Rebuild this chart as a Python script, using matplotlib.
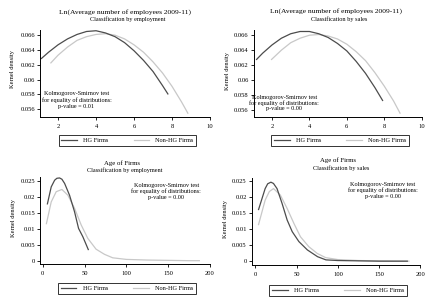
import matplotlib
matplotlib.use("Agg")
import matplotlib.pyplot as plt
from matplotlib.lines import Line2D
from matplotlib.ticker import FixedLocator, FixedFormatter

plt.rcParams['font.family'] = ['Liberation Serif', 'DejaVu Serif']

W, H = 433, 305

# ---------------- data ----------------
tl_hg_x = [1.1, 1.5, 2.0, 2.5, 3.0, 3.5, 4.0, 4.5, 5.0, 5.5, 6.0, 6.5, 7.0, 7.5, 7.8]
tl_hg_y = [0.0628, 0.0637, 0.0647, 0.0655, 0.0661, 0.0665, 0.0666, 0.0663, 0.0658,
           0.0650, 0.0639, 0.0626, 0.0611, 0.0592, 0.0580]
tl_nhg_x = [1.6, 2.0, 2.5, 3.0, 3.5, 4.0, 4.5, 5.0, 5.5, 6.0, 6.5, 7.0, 7.5, 8.0, 8.5, 8.85]
tl_nhg_y = [0.0622, 0.0633, 0.0644, 0.0653, 0.0658, 0.0661, 0.0662, 0.0660, 0.0655,
            0.0647, 0.0637, 0.0624, 0.0609, 0.0591, 0.0570, 0.0554]

tr_hg_x = [1.15, 1.5, 2.0, 2.5, 3.0, 3.5, 4.0, 4.5, 5.0, 5.5, 6.0, 6.5, 7.0, 7.5, 7.93]
tr_hg_y = [0.0627, 0.0636, 0.0647, 0.0656, 0.0662, 0.0665, 0.0665, 0.0662, 0.0657,
           0.0649, 0.0639, 0.0625, 0.0609, 0.0590, 0.0572]
tr_nhg_x = [1.95, 2.5, 3.0, 3.5, 4.0, 4.5, 5.0, 5.5, 6.0, 6.5, 7.0, 7.5, 8.0, 8.5, 8.86]
tr_nhg_y = [0.0627, 0.0640, 0.0650, 0.0656, 0.0660, 0.0661, 0.0659, 0.0655, 0.0648,
            0.0638, 0.0626, 0.0610, 0.0592, 0.0572, 0.0555]

bl_hg_x = [5.5, 10.2, 14.3, 17.0, 20.2, 23.0, 26.2, 32.1, 38.1, 42.9, 48.0, 54.8]
bl_hg_y = [0.0177, 0.0232, 0.0253, 0.0259, 0.0260, 0.0256, 0.0243, 0.0206, 0.0154,
           0.0102, 0.0076, 0.0034]
bl_nhg_x = [4.3, 10.2, 16.2, 23.0, 30.1, 38.1, 46.0, 53.9, 63.8, 73.8, 83.7, 100, 125, 150, 175, 188]
bl_nhg_y = [0.0115, 0.0185, 0.0217, 0.0224, 0.0206, 0.0165, 0.0113, 0.0071, 0.0037,
            0.0021, 0.0010, 0.0005, 0.0003, 0.0002, 0.0001, 0.0001]

br_hg_x = [3.7, 11.9, 15.0, 18.9, 22.0, 26.3, 32.4, 38.6, 44.7, 52.8, 63.1, 75.4, 85.6, 100, 125, 150, 185]
br_hg_y = [0.0160, 0.0227, 0.0242, 0.0247, 0.0243, 0.0227, 0.0181, 0.0129, 0.0093,
           0.0062, 0.0036, 0.0015, 0.0005, 0.0003, 0.0002, 0.0001, 0.0001]
br_nhg_x = [3.7, 11.9, 17.0, 22.1, 30.3, 38.6, 46.7, 54.7, 64.9, 75.1, 85.3, 100, 125, 150, 187]
br_nhg_y = [0.0113, 0.0191, 0.0218, 0.0227, 0.0207, 0.0165, 0.0119, 0.0077, 0.0046,
            0.0025, 0.0012, 0.0006, 0.0003, 0.0002, 0.0001]

top_xticks = [2, 4, 6, 8, 10]
top_yticks = [0.056, 0.058, 0.060, 0.062, 0.064, 0.066]
top_ytick_labels = ['0.056', '0.058', '0.06', '0.062', '0.064', '0.066']
bot_xticks = [0, 50, 100, 150, 200]
bot_yticks = [0, 0.005, 0.010, 0.015, 0.020, 0.025]
bot_ytick_labels = ['0', '0.005', '0.01', '0.015', '0.02', '0.025']

title_top = 'Ln(Average number of employees 2009-11)'
title_bot = 'Age of Firms'
sub_emp = 'Classification by employment'
sub_sales = 'Classification by sales'
ks_text = 'Kolmogorov-Smirnov test\nfor equality of distributions:\np-value = {}'
pvals = ['0.01', '0.00', '0.00', '0.00']
series_names = ['HG Firms', 'Non-HG Firms']

DARK = '#4c4c4c'
LIGHT = '#c8c8c8'

fig = plt.figure(figsize=(W / 100, H / 100), dpi=100)
fig.patch.set_facecolor('white')


def axpos(l, r, t, b):
    return [l / W, 1 - b / H, (r - l) / W, (b - t) / H]


def fx(px):
    return px / W


def fy(py):
    return 1 - py / H


panels = [
    dict(pos=axpos(40, 210, 30, 116.7), xlim=(1.05, 10.0), ylim=(0.0550, 0.0667),
         hg=(tl_hg_x, tl_hg_y), nhg=(tl_nhg_x, tl_nhg_y), xt=top_xticks,
         yt=top_yticks, ytl=top_ytick_labels, title=title_top, sub=sub_emp,
         tx=125, ty=11.7, sy=19.3, ylx=12.7, yly=69, ks=(2.97, 0.05725, 1.2),
         leg=(127.5, 140), p=pvals[0], tsize=5.4),
    dict(pos=axpos(253.7, 422, 30, 116.7), xlim=(1.02, 10.02), ylim=(0.0551, 0.0667),
         hg=(tr_hg_x, tr_hg_y), nhg=(tr_nhg_x, tr_nhg_y), xt=top_xticks,
         yt=top_yticks, ytl=top_ytick_labels, title=title_top, sub=sub_sales,
         tx=336, ty=10.7, sy=19.0, ylx=227.7, yly=70.8, ks=(2.66, 0.05697, 1.0),
         leg=(340.3, 140.8), p=pvals[1], tsize=5.4),
    dict(pos=axpos(40, 210, 177, 264), xlim=(-3.2, 200), ylim=(-0.00094, 0.0263),
         hg=(bl_hg_x, bl_hg_y), nhg=(bl_nhg_x, bl_nhg_y), xt=bot_xticks,
         yt=bot_yticks, ytl=bot_ytick_labels, title=title_bot, sub=sub_emp,
         tx=122, ty=162.7, sy=170.3, ylx=13.3, yly=217.8, ks=(147.6, 0.02178, 1.2),
         leg=(127, 288.7), p=pvals[2], tsize=4.9),
    dict(pos=axpos(251.7, 420.3, 178, 264.7), xlim=(-4.4, 200), ylim=(-0.001, 0.026),
         hg=(br_hg_x, br_hg_y), nhg=(br_nhg_x, br_nhg_y), xt=bot_xticks,
         yt=bot_yticks, ytl=bot_ytick_labels, title=title_bot, sub=sub_sales,
         tx=338, ty=160.3, sy=167.7, ylx=226, yly=219.5, ks=(154.4, 0.0222, 1.2),
         leg=(338, 290.7), p=pvals[3], tsize=4.9),
]

for P in panels:
    ax = fig.add_axes(P['pos'])
    ax.plot(*P['nhg'], color=LIGHT, lw=0.9, solid_capstyle='butt')
    ax.plot(*P['hg'], color=DARK, lw=0.9, solid_capstyle='butt')
    ax.set_xlim(*P['xlim'])
    ax.set_ylim(*P['ylim'])
    for s in ('top', 'right'):
        ax.spines[s].set_visible(False)
    for s in ('left', 'bottom'):
        ax.spines[s].set_linewidth(0.7)
        ax.spines[s].set_color('black')
    ax.set_facecolor('none')
    ax.xaxis.set_major_locator(FixedLocator(P['xt']))
    ax.yaxis.set_major_locator(FixedLocator(P['yt']))
    ax.yaxis.set_major_formatter(FixedFormatter(P['ytl']))
    ax.tick_params(axis='both', labelsize=4.7, length=2, width=0.6, direction='out')
    ax.tick_params(axis='x', pad=3)
    ax.tick_params(axis='y', pad=1.5)
    ax.text(P['ks'][0], P['ks'][1], ks_text.format(P['p']), ha='center', va='center',
            fontsize=4.4, linespacing=P['ks'][2])
    fig.text(fx(P['tx']), fy(P['ty']), P['title'], ha='center', va='center',
             fontsize=P['tsize'])
    fig.text(fx(P['tx'] + 3), fy(P['sy']), P['sub'], ha='center', va='center',
             fontsize=4.5)
    fig.text(fx(P['ylx']), fy(P['yly']), 'Kernel density', rotation=90,
             ha='center', va='center', fontsize=4.6)
    handles = [Line2D([], [], color=DARK, lw=0.9), Line2D([], [], color=LIGHT, lw=0.9)]
    leg = fig.legend(handles, series_names, loc='center',
                     bbox_to_anchor=(fx(P['leg'][0]), fy(P['leg'][1])),
                     ncol=2, fontsize=4.5, frameon=True, fancybox=False,
                     edgecolor='black', handlelength=2.5, handletextpad=1.0,
                     columnspacing=4.0, borderpad=0.45, borderaxespad=0)
    leg.get_frame().set_linewidth(0.7)

fig.savefig('out.png', dpi=100, facecolor='white')
